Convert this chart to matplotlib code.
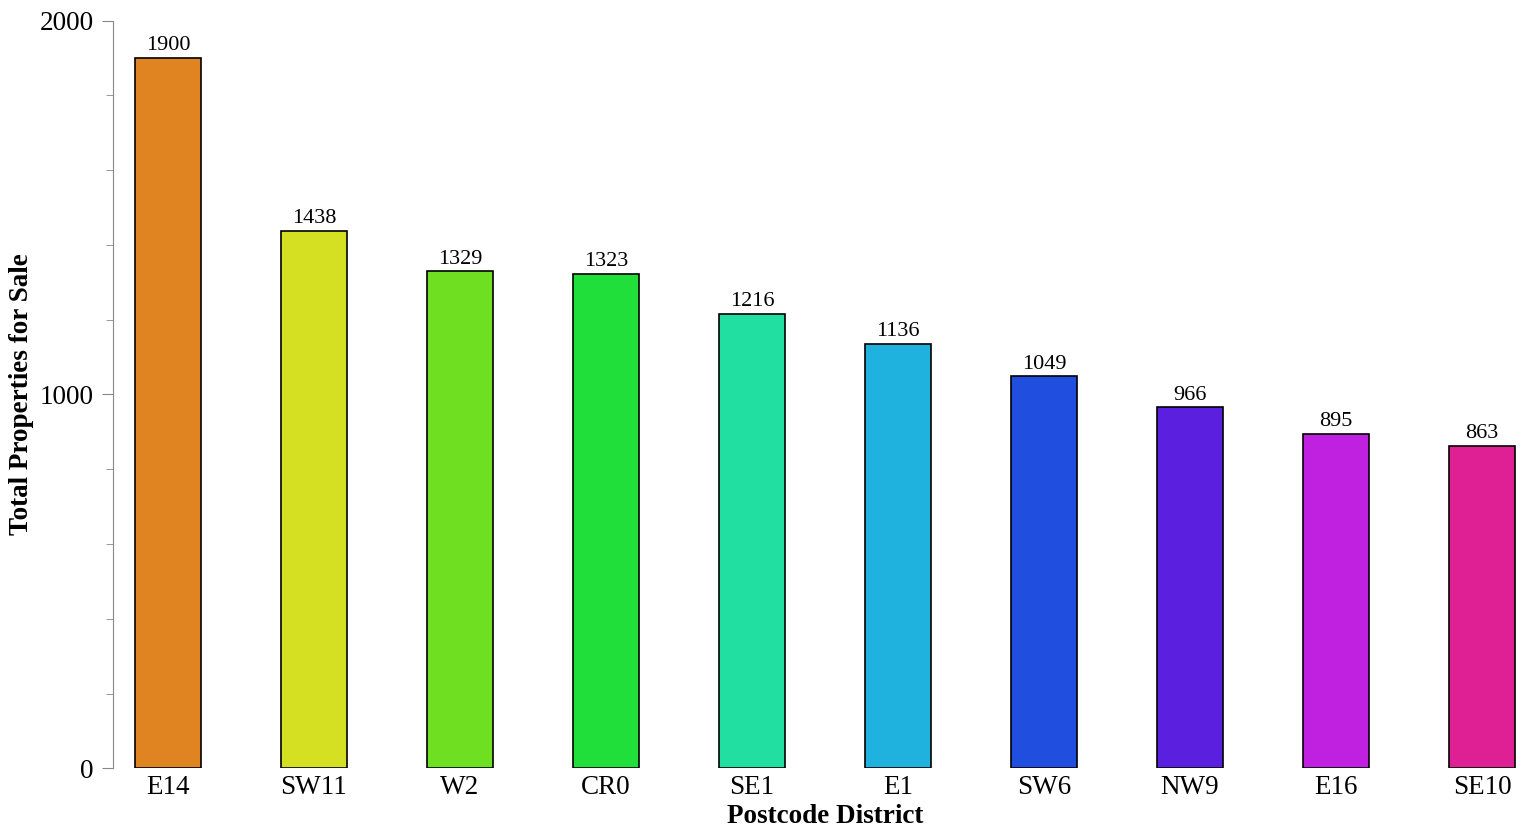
import matplotlib.pyplot as plt
from matplotlib.ticker import MultipleLocator

districts = ['E14', 'SW11', 'W2', 'CR0', 'SE1', 'E1', 'SW6', 'NW9', 'E16', 'SE10']
totals = [1900, 1438, 1329, 1323, 1216, 1136, 1049, 966, 895, 863]
colours = ['#DF8420', '#D4E021', '#6EDF21', '#20DF3A', '#20DFA0',
           '#20B2DF', '#204EDF', '#5B20DF', '#C020DF', '#DF2094']

plt.rcParams['font.family'] = ['Liberation Serif', 'DejaVu Serif']

fig, ax = plt.subplots(figsize=(15.25, 8.27), dpi=100)
fig.subplots_adjust(left=0.074, right=0.9948, top=0.975, bottom=0.071)

x = range(len(districts))
bars = ax.bar(x, totals, width=0.45, color=colours, edgecolor='black', linewidth=1.2)
for b, v in zip(bars, totals):
    ax.text(b.get_x() + b.get_width() / 2, v + 7, str(v), ha='center', va='bottom', fontsize=16)

ax.set_xticks(list(x))
ax.set_xticklabels(districts, fontsize=19.5)
ax.set_ylim(0, 2000)
ax.set_xlim(-0.377, 9.24)
ax.yaxis.set_major_locator(MultipleLocator(1000))
ax.yaxis.set_minor_locator(MultipleLocator(200))
ax.tick_params(axis='y', which='major', labelsize=19.5, length=8, color='#888888', pad=6)
ax.tick_params(axis='y', which='minor', length=5, color='#888888')
ax.tick_params(axis='x', length=0, pad=5)

for s in ['top', 'right', 'bottom']:
    ax.spines[s].set_visible(False)
ax.spines['left'].set_color('#888888')

ax.set_xlabel('Postcode District', fontsize=19.5, fontweight='bold', labelpad=3)
ax.xaxis.label.set_x(0.507)
ax.set_ylabel('Total Properties for Sale', fontsize=19.5, fontweight='bold', labelpad=4)

fig.savefig('out.png')
